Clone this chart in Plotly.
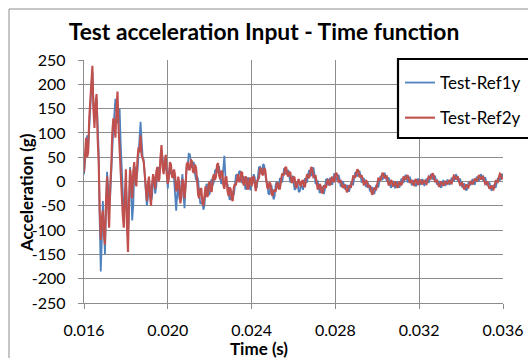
import plotly.graph_objects as go

t_start = 0.016
t_step = 0.00005
ref1y = [
    15, 40, 80, 95, 70, 100, 150, 195, 225, 160, 130, 140, 170, 120, 60, -80, -185, -120, -40, -90,
    -150, -60, 20, -10, -60, -30, 25, 80, 110, 140, 170, 150, 120, 130, 150, 80, 30, -30, -70, -40,
    0, -50, -110, -60, 30, -20, -80, -50, 20, 30, 10, 20, 60, 90, 123, 85, 50, 45, 20, -20,
    -50, -35, 0, -10, -40, -30, 5, 0, -25, -10, 20, 30, 15, 35, 65, 50, 20, 25, 45, 20,
    -15, 18, 30, 15, 20, 22, 5, -38, -60, -25, -10, -35, -40, -3, 15, -30, -55, -3, 30, 34,
    57, 56, 35, 28, 40, 38, 15, 3, 10, 3, -25, -45, -45, -42, -58, -49, -20, -5, -10, -28,
    -25, 0, 5, -8, 0, 22, 25, 18, 30, 30, 10, -5, 0, 37, 53, 12, -10, -5, -20, -38,
    -35, -20, -25, -28, -10, 12, 15, 8, 20, 22, 5, -3, 10, 8, -15, -15, 5, 8, -10, -18,
    -5, -4, 15, 9, -15, -12, 10, 29, 30, 16, 20, 36, 33, 8, 0, -4, -25, -27, -10, -9,
    -25, -37, -30, -6, 0, -14, -10, 7, 5, -2, 10, 27, 25, 14, 20, 24, 10, -2, 5, 12,
    0, -17, -15, -1, -5, -22, -20, -6, -10, -17, -5, 7, 0, -2, 15, 24, 15, 11, 25, 29,
    15, -4, -5, 2, -10, -24, -20, -10, -18, -26, -15, 4, 5, -8, -3, 8, 0, -7, 5, 17,
    10, 2, 8, 14, 5, -9, -8, 1, -5, -16, -12, -7, -15, -21, -12, -2, -5, -6, 8, 19,
    15, 10, 18, 22, 12, -1, 0, 7, 0, -11, -8, -2, -10, -20, -15, -11, -20, -26, -18, -7,
    -10, -12, 0, 11, 8, 3, 12, 18, 10, 1, 5, 8, -3, -13, -8, 1, -5, -14, -8, 0,
    -7, -13, -5, 6, 3, -3, 5, 14, 8, -2, 3, 10, 2, -8, -3, 3, -5, -10, 0, 6,
    -2, -7, 0, 5, -3, -9, -2, 6, 2, -3, 5, 15, 12, 4, 8, 12, 3, -6, -3, 1,
    -8, -13, -5, 3, -2, -9, -3, 4, -2, -7, 0, 8, 3, 0, 8, 15, 10, 0, 2, 6,
    -3, -12, -8, -4, -12, -19, -14, -3, -3, -8, 0, 5, -3, -7, 2, 10, 5, 1, 8, 15,
    10, 2, 5, 9, 0, -9, -5, -2, -10, -19, -15, -7, -10, -13, -3, 7, 5, 2, 10, 16,
    10]
ref2y = [
    20, 65, 90, 50, 60, 130, 170, 200, 238, 150, 110, 160, 180, 90, 40, -60, -120, -75, -60, -110,
    -130, -40, 10, -50, -95, -10, 30, 100, 130, 120, 90, 150, 185, 110, 60, 30, -20, -70, -95, -20,
    25, -90, -145, -40, 25, 5, -35, 20, 40, 0, -10, 45, 70, 60, 95, 55, 45, 40, 15, -25,
    -40, -5, 10, -30, -50, -5, 15, 5, -15, 20, 30, 0, 5, 50, 75, 30, 15, 40, 55, 15,
    -5, 8, 40, 35, 10, 8, 25, 12, -20, -15, 10, -8, -45, -30, 5, -5, -35, -10, 35, 40,
    25, 25, 45, 42, 20, 18, 35, 28, 0, -28, -35, -15, -15, -43, -50, -20, -10, -30, -30, -5,
    0, -20, -20, 8, 15, 3, 10, 34, 38, 12, 5, 22, 20, -8, -15, 8, 10, -20, -30, -12,
    -15, -37, -40, -12, -5, -8, 10, 15, 0, 0, 20, 18, -5, -8, 10, 8, -15, -15, 5, 8,
    -10, 8, 10, -13, -20, 0, 5, 7, 25, 28, 15, 13, 28, 24, 5, -13, -15, -2, -5, -25,
    -30, -17, -20, -20, -5, -2, -15, -15, 0, 15, 15, 13, 28, 30, 15, 10, 20, 18, 0, -3,
    10, 8, -10, -13, 0, 5, -5, -10, 0, 3, -10, -10, 5, 15, 10, 7, 20, 30, 24, 9,
    10, 13, 0, -15, -15, -5, -10, -24, -22, -8, -10, -13, 0, 5, -5, -8, 5, 10, 0, 0,
    15, 18, 10, -1, 0, 3, -5, -13, -10, -6, -15, -22, -18, -8, -10, -11, 0, 11, 10, 8,
    18, 25, 21, 10, 10, 13, 5, -6, -5, 3, 0, -11, -10, -8, -18, -27, -24, -13, -15, -16,
    -5, 6, 5, 2, 10, 18, 14, 6, 10, 11, 0, -8, -5, 3, 0, -10, -8, 0, -5, -13,
    -10, 0, -3, -8, 0, 10, 8, 3, 10, 13, 5, -3, 0, 3, -5, -7, 2, 5, -3, -7,
    0, 4, -2, -6, 0, 3, -3, -5, 3, 10, 8, 6, 14, 17, 10, 0, 0, 2, -5, -11,
    -7, 0, -3, -9, -5, 1, -2, -6, 0, 3, -3, -4, 5, 12, 10, 4, 8, 9, 0, -7,
    -5, -2, -10, -16, -13, -6, -10, -12, -5, 1, -2, -6, 0, 6, 3, 0, 7, 13, 10, 4,
    8, 10, 3, -5, -3, 0, -8, -15, -12, -8, -14, -16, -8, 1, 0, -1, 8, 16, 14, 6,
    8]
time1 = [round(t_start + i * t_step, 7) for i in range(len(ref1y))]
time2 = [round(t_start + i * t_step, 7) for i in range(len(ref2y))]
series_names = ["Test-Ref1y", "Test-Ref2y"]
series_colors = ["#4F81BD", "#C0504D"]
x_ticks = [0.016, 0.020, 0.024, 0.028, 0.032, 0.036]
y_ticks = list(range(-250, 251, 50))

# ---- layout helpers (pixel -> paper) ----
W, H = 528, 358
L, R, T, B = 84, 25, 60, 55
PW, PH = W - L - R, H - T - B
def px(x):
    return (x - L) / PW
def py(y):
    return (H - B - y) / PH

FONT = "Lato"
GRID = "#8c8c8c"

fig = go.Figure()
fig.add_trace(go.Scatter(x=time1, y=ref1y, mode="lines", name=series_names[0],
                         line=dict(color=series_colors[0], width=1.8), legendgroup="a"))
fig.add_trace(go.Scatter(x=time2, y=ref2y, mode="lines", name=series_names[1],
                         line=dict(color=series_colors[1], width=2.1), legendgroup="b"))

axis_common = dict(showgrid=True, gridcolor=GRID, gridwidth=1.3, showline=True,
                   linecolor=GRID, linewidth=1.3, ticks="outside", ticklen=5,
                   tickcolor=GRID, tickwidth=1.3, zeroline=False,
                   tickfont=dict(family=FONT, size=16, color="black"))

fig.update_xaxes(range=[0.016, 0.036], tickvals=x_ticks,
                 ticktext=[f"{v:.3f}" for v in x_ticks], ticklabelstandoff=8,
                 **axis_common)
fig.update_yaxes(range=[-250, 250], tickvals=y_ticks,
                 ticktext=[str(v) for v in y_ticks], ticklabelstandoff=9,
                 **axis_common)

box_line = dict(color="black", width=2.2)
fig.update_layout(
    width=W, height=H,
    margin=dict(l=L, r=R, t=T, b=B, pad=0, autoexpand=False),
    paper_bgcolor="white", plot_bgcolor="white",
    title=dict(text="Test acceleration Input - Time function", x=0.5, xref="container",
               xanchor="center", y=1 - 32 / H, yref="container", yanchor="middle",
               font=dict(family=FONT, size=22.8, color="black", weight="bold")),
    legend=dict(x=px(400), y=py(65), xanchor="left", yanchor="top",
                bgcolor="rgba(0,0,0,0)", borderwidth=0,
                font=dict(family=FONT, size=17, color="black"),
                traceorder="grouped", tracegroupgap=10),
    annotations=[
        dict(text="Acceleration (g)", x=px(26), y=py(193), xref="paper", yref="paper",
             textangle=-90, showarrow=False, xanchor="center", yanchor="middle",
             font=dict(family=FONT, size=17, color="black", weight="bold")),
        dict(text="Time (s)", x=px(259), y=py(348), xref="paper", yref="paper",
             showarrow=False, xanchor="center", yanchor="middle",
             font=dict(family=FONT, size=17, color="black", weight="bold")),
    ],
    shapes=[
        # outer chart-area border (runs past the right and bottom edges)
        dict(type="rect", xref="paper", yref="paper", x0=px(9), y0=py(600),
             x1=px(700), y1=py(9), line=dict(color="#8c8c8c", width=1),
             fillcolor="rgba(0,0,0,0)", layer="below"),
        # legend frame: white background, black frame running past the right edge
        dict(type="rect", xref="paper", yref="paper", x0=px(398), y0=py(138),
             x1=px(640), y1=py(59), line=dict(width=0), fillcolor="white", layer="above"),
        dict(type="line", xref="paper", yref="paper", x0=px(397), y0=py(59),
             x1=px(640), y1=py(59), line=box_line, layer="above"),
        dict(type="line", xref="paper", yref="paper", x0=px(397), y0=py(138),
             x1=px(640), y1=py(138), line=box_line, layer="above"),
        dict(type="line", xref="paper", yref="paper", x0=px(398), y0=py(58),
             x1=px(398), y1=py(139), line=box_line, layer="above"),
    ],
)

fig.write_html("out.html")
